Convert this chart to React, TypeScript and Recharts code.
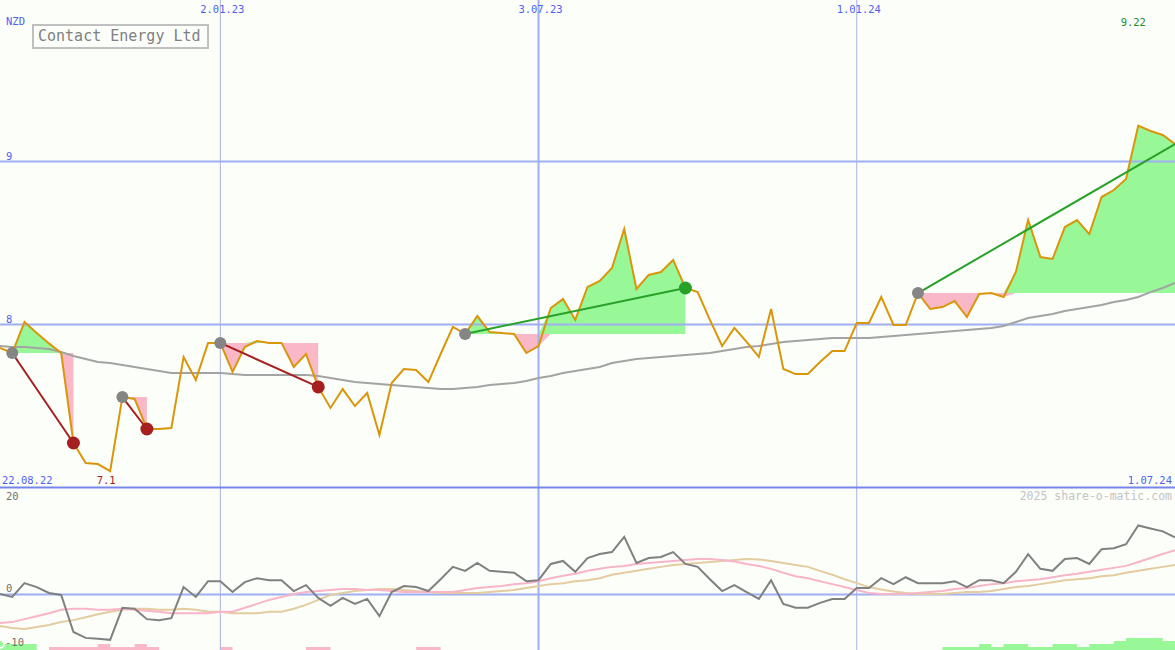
import React from 'react';
import { ComposedChart, Line, Area, XAxis, YAxis, ReferenceLine, ReferenceDot } from 'recharts';

const W = 1175;
const H = 650;
const MONO = '"DejaVu Sans Mono", "Liberation Mono", monospace';
const BLUE = '#4f5ff2';
const BG = '#fcfefa';

// weekly closes in NZD, index 0 = 22.08.22
const price = [
  7.856, 7.825, 8.015, 7.948, 7.884, 7.825, 7.273, 7.15, 7.144, 7.1,
  7.555, 7.543, 7.359, 7.359, 7.365, 7.801, 7.66, 7.887, 7.887, 7.709,
  7.862, 7.899, 7.887, 7.887, 7.739, 7.819, 7.617, 7.488, 7.604, 7.5,
  7.58, 7.322, 7.641, 7.727, 7.721, 7.647, 7.819, 7.985, 7.942, 8.052,
  7.954, 7.948, 7.942, 7.825, 7.868, 8.101, 8.156, 8.028, 8.23, 8.267,
  8.347, 8.586, 8.218, 8.304, 8.322, 8.396, 8.224, 8.199, 8.028, 7.868,
  7.979, 7.893, 7.801, 8.095, 7.727, 7.696, 7.696, 7.77, 7.837, 7.837,
  8.009, 8.009, 8.169, 7.997, 7.997, 8.193, 8.095, 8.107, 8.144, 8.046,
  8.187, 8.193, 8.169, 8.322, 8.641, 8.414, 8.402, 8.598, 8.641, 8.555,
  8.782, 8.825, 8.893, 9.22, 9.187, 9.163, 9.107,
];

// long moving average
const avg = [
  7.868, 7.862, 7.862, 7.856, 7.85, 7.831, 7.807, 7.788, 7.77, 7.764,
  7.752, 7.739, 7.727, 7.715, 7.703, 7.703, 7.703, 7.703, 7.703, 7.696,
  7.69, 7.69, 7.69, 7.69, 7.69, 7.69, 7.684, 7.672, 7.66, 7.647,
  7.641, 7.635, 7.629, 7.623, 7.617, 7.61, 7.604, 7.604, 7.61, 7.617,
  7.629, 7.635, 7.641, 7.653, 7.672, 7.684, 7.703, 7.715, 7.727, 7.739,
  7.764, 7.776, 7.788, 7.794, 7.801, 7.807, 7.813, 7.819, 7.825, 7.837,
  7.85, 7.862, 7.868, 7.88, 7.893, 7.899, 7.905, 7.911, 7.917, 7.917,
  7.917, 7.917, 7.923, 7.929, 7.936, 7.942, 7.948, 7.954, 7.96, 7.966,
  7.972, 7.979, 7.991, 8.015, 8.04, 8.052, 8.064, 8.083, 8.095, 8.107,
  8.12, 8.138, 8.15, 8.169, 8.199, 8.224, 8.255,
];

// lower panel: momentum and its two smoothings
const momentum = [
  0.1, -0.5, 2.3, 1.5, 0.3, -0.1, -7.6, -8.8, -9.0, -9.2,
  -2.7, -2.9, -5.0, -5.2, -4.8, 1.5, -0.5, 2.7, 2.7, 0.5,
  2.5, 3.3, 2.9, 2.9, 0.7, 1.9, -0.7, -2.3, -0.7, -1.9,
  -0.9, -4.4, 0.5, 1.7, 1.5, 0.7, 3.1, 5.6, 4.8, 6.4,
  4.8, 4.6, 4.4, 2.7, 2.9, 6.2, 6.8, 4.6, 7.4, 8.2,
  8.6, 11.7, 6.4, 7.4, 7.6, 8.6, 6.2, 5.6, 3.1, 0.7,
  1.9, 0.5, -0.9, 2.9, -1.9, -2.7, -2.7, -1.7, -0.9, -0.9,
  1.3, 1.3, 3.3, 2.1, 3.5, 2.3, 2.3, 2.3, 2.7, 1.5,
  2.9, 2.9, 2.3, 4.6, 8.2, 5.2, 4.8, 7.2, 7.4, 6.2,
  9.2, 9.4, 10.2, 14.0, 13.4, 12.8, 11.6,
];

const fastLine = [
  -5.8, -5.6, -5.0, -4.4, -3.8, -3.1, -2.9, -2.9, -3.1, -3.1,
  -2.9, -3.1, -3.3, -3.5, -3.8, -3.8, -3.8, -3.8, -3.5, -3.5,
  -2.7, -1.9, -1.1, -0.5, 0.1, 0.5, 0.7, 0.9, 1.1, 1.1,
  0.9, 0.9, 0.7, 0.5, 0.5, 0.5, 0.5, 0.5, 0.9, 1.3,
  1.5, 1.7, 2.1, 2.3, 2.7, 3.3, 3.8, 4.2, 4.8, 5.2,
  5.6, 5.8, 6.2, 6.4, 6.6, 6.8, 7.0, 7.2, 7.2, 7.0,
  6.7, 6.2, 5.8, 5.2, 4.4, 3.7, 3.3, 2.7, 2.1, 1.5,
  0.9, 0.3, 0.1, 0.1, 0.1, 0.3, 0.5, 0.7, 1.1, 1.3,
  1.7, 2.1, 2.3, 2.7, 2.9, 3.1, 3.5, 3.9, 4.2, 4.6,
  5.0, 5.4, 5.8, 6.6, 7.4, 8.2, 9.0,
];

const slowLine = [
  -6.4, -6.8, -7.0, -6.6, -6.2, -5.6, -5.2, -4.6, -4.0, -3.5,
  -3.1, -2.9, -2.9, -3.1, -3.1, -2.9, -3.1, -3.5, -3.5, -3.8,
  -3.8, -3.8, -3.5, -3.5, -2.9, -2.1, -1.1, -0.1, 0.3, 0.7,
  0.9, 1.1, 1.1, 0.9, 0.7, 0.5, 0.3, 0.3, 0.3, 0.3,
  0.5, 0.7, 0.9, 1.3, 1.7, 2.1, 2.3, 2.7, 2.9, 3.3,
  4.0, 4.4, 4.8, 5.2, 5.6, 6.0, 6.2, 6.4, 6.6, 6.8,
  7.0, 7.2, 7.1, 6.8, 6.4, 6.0, 5.6, 4.8, 4.0, 3.1,
  2.3, 1.5, 1.0, 0.6, 0.3, 0.1, 0.1, 0.1, 0.3, 0.5,
  0.5, 0.7, 1.1, 1.5, 1.7, 2.1, 2.5, 2.9, 3.1, 3.3,
  3.7, 3.9, 4.4, 4.8, 5.2, 5.6, 6.0,
];

// strength blocks along the bottom: [week index, height]
const blocksUp = [
  [0, 2], [1, 2], [2, 2], [3, 2],
  [77, 1], [78, 1], [79, 1], [80, 2], [81, 1], [82, 2], [83, 2], [84, 1], [85, 1], [86, 2],
  [87, 2], [88, 1], [89, 2], [90, 2], [91, 3], [92, 4], [93, 4], [94, 4], [95, 3], [96, 3],
];
const blocksDown = [
  [4, 1], [5, 1], [6, 1], [7, 1], [8, 2], [9, 1], [10, 1], [11, 2], [12, 1], [13, 1],
  [18, 1], [19, 1], [25, 1], [26, 1], [27, 1], [34, 1], [35, 1], [36, 1],
];

// signals: entry week, exit week
const signalStart = [1, 10, 18, 38, 75];
const signalEnd = [6, 12, 26, 56, 96];
const signalUp = [false, false, false, true, true];
const signalOpen = [false, false, false, false, true];

const dateTicks = [
  { i: 18, label: '2.01.23', wide: false },
  { i: 44, label: '3.07.23', wide: true },
  { i: 70, label: '1.01.24', wide: false },
];
const priceLines = [8, 9];
const lowIdx = 9;
const highIdx = 93;

const upMap = new Map(blocksUp.map(([i, v]) => [i, v]));
const downMap = new Map(blocksDown.map(([i, v]) => [i, v]));

const rows = price.map((p, i) => {
  const row: any = {
    i,
    price: p,
    avg: avg[i],
    momentum: momentum[i],
    fast: fastLine[i],
    slow: slowLine[i],
    blockUp: upMap.has(i) ? upMap.get(i) : null,
    blockDown: downMap.has(i) ? downMap.get(i) : null,
    gain: null,
    loss: null,
  };
  signalStart.forEach((s, k) => {
    const e = signalEnd[k];
    const level = price[s];
    if (i >= s && i <= e) {
      row.gain = [level, Math.max(p, level)];
      row.loss = [Math.min(p, level), level];
    }
    row['sig' + k] = i === s || i === e ? p : null;
  });
  return row;
});

const Tag = (props: any) => {
  const { viewBox, tx, ox = 0, oy = 0, anchor = 'start', color = BLUE, size = 10.5 } = props;
  if (!viewBox) return null;
  return (
    <text x={viewBox.x + ox} y={viewBox.y + oy} textAnchor={anchor} fill={color} fontSize={size} fontFamily={MONO}>
      {tx}
    </text>
  );
};

const signalDot = (k: number) => (props: any) => {
  const { cx, cy, index } = props;
  const key = `dot-${k}-${index}`;
  if (cx == null || cy == null) return <g key={key} />;
  if (index === signalStart[k]) return <circle key={key} cx={cx} cy={cy} r={6} fill="#858585" />;
  if (index === signalEnd[k] && !signalOpen[k]) {
    return <circle key={key} cx={cx} cy={cy} r={6.5} fill={signalUp[k] ? '#27a127' : '#a61f1f'} />;
  }
  return <g key={key} />;
};

export default function App() {
  return (
    <div style={{ position: 'absolute', left: 0, top: 0, width: W, height: H, background: BG, overflow: 'hidden' }}>
      <ComposedChart width={W} height={H} data={rows} margin={{ top: 0, right: 0, bottom: 0, left: 0 }}>
        <XAxis dataKey="i" type="number" domain={[0, 96]} hide allowDataOverflow />
        <YAxis yAxisId="p" type="number" domain={[6.0031, 9.9908]} hide allowDataOverflow />
        <YAxis yAxisId="o" type="number" domain={[-11.26, 120.59]} hide allowDataOverflow />
        <YAxis yAxisId="b" type="number" domain={[0, 216.67]} hide allowDataOverflow />

        {dateTicks.map((d) => (
          <ReferenceLine
            key={d.label}
            yAxisId="p"
            x={d.i}
            stroke={d.wide ? '#a0aef4' : '#aab0e0'}
            strokeWidth={d.wide ? 2 : 1}
            label={<Tag tx={d.label} anchor="middle" ox={2} oy={12.5} />}
          />
        ))}
        {priceLines.map((v) => (
          <ReferenceLine
            key={v}
            yAxisId="p"
            y={v}
            stroke="#a0aef2"
            strokeWidth={2}
            label={<Tag tx={String(v)} ox={6} oy={-2} />}
          />
        ))}
        <ReferenceLine yAxisId="p" y={7} stroke="#7585ec" strokeWidth={2} />
        <ReferenceLine yAxisId="o" y={0} stroke="#a0aef2" strokeWidth={2} label={<Tag tx="0" ox={6} oy={-2.5} color="#707070" />} />
        <ReferenceLine yAxisId="o" y={20} stroke="none" label={<Tag tx="20" ox={6} oy={4} color="#707070" />} />
        <ReferenceLine
          yAxisId="p"
          x={highIdx}
          stroke="none"
          label={<Tag tx={price[highIdx].toFixed(2)} anchor="middle" ox={-5} oy={26} color="#1f8a1f" />}
        />
        <ReferenceDot yAxisId="p" x={0} y={7} r={0} fill="none" stroke="none" label={<Tag tx="22.08.22" ox={2} oy={-4} />} />
        <ReferenceDot
          yAxisId="p"
          x={lowIdx}
          y={7}
          r={0}
          fill="none"
          stroke="none"
          label={<Tag tx={price[lowIdx].toFixed(1)} anchor="middle" ox={-4} oy={-4} color="#a01c1c" />}
        />
        <ReferenceDot yAxisId="p" x={96} y={7} r={0} fill="none" stroke="none" label={<Tag tx="1.07.24" anchor="end" ox={-3} oy={-4} />} />

        <Area yAxisId="b" dataKey="blockUp" type="stepAfter" fill="#98f898" fillOpacity={1} stroke="none" isAnimationActive={false} />
        <Area yAxisId="b" dataKey="blockDown" type="stepAfter" fill="#f8b8c8" fillOpacity={1} stroke="none" isAnimationActive={false} />
        <Line yAxisId="o" dataKey="slow" stroke="#e3cc9f" strokeWidth={2} dot={false} activeDot={false} isAnimationActive={false} />
        <Line yAxisId="o" dataKey="fast" stroke="#f8b4c8" strokeWidth={2} dot={false} activeDot={false} isAnimationActive={false} />
        <Line yAxisId="o" dataKey="momentum" stroke="#808080" strokeWidth={2} dot={false} activeDot={false} isAnimationActive={false} />

        <Area yAxisId="p" dataKey="gain" fill="#98f898" fillOpacity={1} stroke="none" isAnimationActive={false} />
        <Area yAxisId="p" dataKey="loss" fill="#f8b8c8" fillOpacity={1} stroke="none" isAnimationActive={false} />
        <Line yAxisId="p" dataKey="avg" stroke="#a3a3a3" strokeWidth={2} dot={false} activeDot={false} isAnimationActive={false} />
        <Line yAxisId="p" dataKey="price" stroke="#d9960a" strokeWidth={2} dot={false} activeDot={false} isAnimationActive={false} />
        {signalStart.map((s, k) => (
          <Line
            key={'sig' + k}
            yAxisId="p"
            dataKey={'sig' + k}
            connectNulls
            stroke={signalUp[k] ? '#27a127' : '#a61f1f'}
            strokeWidth={2}
            dot={signalDot(k)}
            activeDot={false}
            isAnimationActive={false}
          />
        ))}
      </ComposedChart>

      <svg width={W} height={H} style={{ position: 'absolute', left: 0, top: 0, pointerEvents: 'none' }}>
        <text x={6} y={25} fill={BLUE} fontSize={10.5} fontFamily={MONO}>NZD</text>
        <rect x={33} y={25} width={175} height={23} fill={BG} stroke="#c0c0c0" strokeWidth={2} />
        <text x={38} y={41} fill="#808080" fontSize={15} fontFamily={MONO}>Contact Energy Ltd</text>
        <text x={1172} y={500} textAnchor="end" fill="#c4c4c4" fontSize={11.5} fontFamily={MONO}>2025 share-o-matic.com</text>
        <text x={5} y={646} fill="#707070" fontSize={10.5} fontFamily={MONO}>-10</text>
      </svg>
    </div>
  );
}
